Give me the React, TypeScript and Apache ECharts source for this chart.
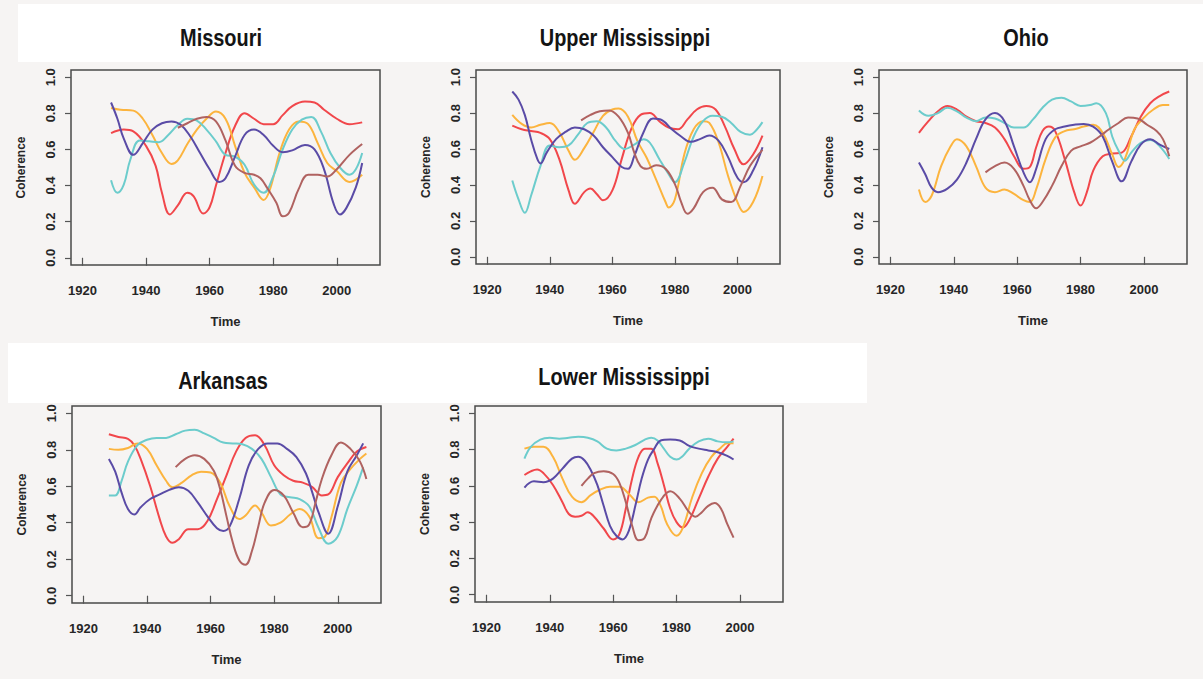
import React, { useEffect, useRef } from "react";
import * as echarts from "echarts";

// ---------- Data (year, coherence) ----------
const missouriRed = [[1929,0.69],[1933,0.71],[1936,0.70],[1940,0.62],[1943,0.51],[1945,0.36],[1947.5,0.24],[1950,0.29],[1953,0.36],[1955,0.34],[1958,0.245],[1960,0.28],[1962,0.40],[1965,0.58],[1968,0.73],[1971,0.80],[1974,0.77],[1977,0.74],[1980,0.74],[1983,0.79],[1986,0.84],[1990,0.865],[1993,0.86],[1996,0.82],[2000,0.77],[2004,0.74],[2008,0.75]];
const missouriOrange = [[1929,0.83],[1932,0.82],[1936,0.815],[1939,0.77],[1942,0.68],[1945,0.58],[1948,0.52],[1950,0.54],[1953,0.63],[1956,0.71],[1959,0.77],[1962,0.81],[1965,0.77],[1968,0.62],[1971,0.47],[1974,0.39],[1977,0.32],[1979,0.38],[1982,0.58],[1985,0.71],[1988,0.755],[1991,0.74],[1994,0.635],[1997,0.525],[2000,0.48],[2004,0.42],[2008,0.46]];
const missouriCyan = [[1929,0.43],[1931,0.36],[1933,0.405],[1935,0.54],[1938,0.65],[1941,0.645],[1944,0.64],[1947,0.68],[1950,0.735],[1953,0.77],[1956,0.76],[1959,0.71],[1962,0.645],[1965,0.57],[1968,0.56],[1971,0.515],[1974,0.405],[1977,0.36],[1980,0.45],[1983,0.60],[1986,0.71],[1989,0.765],[1992,0.78],[1995,0.70],[1998,0.58],[2001,0.50],[2004,0.46],[2006,0.49],[2008,0.58]];
const missouriPurple = [[1929,0.86],[1931,0.77],[1933,0.66],[1936,0.57],[1939,0.635],[1942,0.71],[1945,0.745],[1948,0.755],[1951,0.735],[1954,0.67],[1957,0.58],[1960,0.49],[1963,0.42],[1965,0.44],[1968,0.56],[1971,0.68],[1974,0.71],[1977,0.68],[1980,0.62],[1983,0.585],[1986,0.595],[1990,0.625],[1993,0.60],[1996,0.49],[1999,0.30],[2001,0.24],[2003,0.275],[2006,0.39],[2008,0.525]];
const missouriBrown = [[1950,0.72],[1953,0.745],[1956,0.77],[1959,0.78],[1962,0.755],[1965,0.65],[1968,0.51],[1971,0.47],[1974,0.46],[1976,0.44],[1978,0.39],[1981,0.305],[1983,0.23],[1985,0.25],[1988,0.38],[1991,0.46],[1994,0.46],[1997,0.45],[2000,0.49],[2004,0.57],[2008,0.63]];

const upperRed = [[1928,0.73],[1931,0.71],[1934,0.70],[1937,0.69],[1940,0.655],[1943,0.545],[1946,0.37],[1948,0.295],[1951,0.36],[1953,0.38],[1955,0.35],[1957,0.315],[1960,0.37],[1963,0.545],[1966,0.71],[1969,0.79],[1972,0.80],[1975,0.755],[1978,0.72],[1981,0.71],[1984,0.765],[1987,0.82],[1990,0.84],[1993,0.82],[1996,0.725],[1999,0.60],[2002,0.515],[2005,0.57],[2008,0.675]];
const upperOrange = [[1928,0.79],[1931,0.74],[1934,0.72],[1937,0.735],[1940,0.745],[1943,0.695],[1946,0.59],[1948,0.54],[1951,0.605],[1954,0.695],[1957,0.785],[1960,0.82],[1962,0.825],[1965,0.78],[1968,0.645],[1971,0.55],[1974,0.43],[1977,0.305],[1978,0.275],[1980,0.32],[1983,0.57],[1986,0.71],[1989,0.755],[1991,0.745],[1994,0.635],[1997,0.45],[2000,0.305],[2002,0.25],[2005,0.305],[2008,0.45]];
const upperCyan = [[1928,0.425],[1930,0.32],[1932,0.245],[1934,0.34],[1937,0.505],[1940,0.62],[1943,0.61],[1946,0.62],[1949,0.68],[1952,0.745],[1955,0.755],[1958,0.72],[1961,0.645],[1964,0.60],[1967,0.625],[1970,0.655],[1972,0.635],[1975,0.545],[1978,0.46],[1980,0.415],[1983,0.525],[1986,0.67],[1989,0.755],[1992,0.785],[1995,0.78],[1998,0.745],[2001,0.695],[2004,0.68],[2006,0.705],[2008,0.75]];
const upperPurple = [[1928,0.92],[1930,0.875],[1932,0.79],[1934,0.655],[1936,0.545],[1937,0.52],[1939,0.58],[1942,0.655],[1945,0.695],[1948,0.72],[1951,0.71],[1954,0.675],[1957,0.61],[1960,0.555],[1963,0.50],[1965,0.49],[1967,0.56],[1970,0.695],[1973,0.77],[1976,0.76],[1979,0.71],[1982,0.67],[1985,0.64],[1988,0.655],[1991,0.675],[1994,0.645],[1997,0.555],[2000,0.44],[2002,0.415],[2005,0.48],[2008,0.61]];
const upperBrown = [[1950,0.76],[1953,0.79],[1956,0.81],[1959,0.815],[1962,0.78],[1965,0.69],[1967,0.58],[1969,0.505],[1971,0.49],[1974,0.51],[1977,0.49],[1980,0.405],[1982,0.305],[1984,0.24],[1986,0.27],[1989,0.36],[1992,0.385],[1995,0.32],[1998,0.305],[2001,0.395],[2004,0.505],[2008,0.595]];

const ohioRed = [[1929,0.69],[1932,0.755],[1935,0.81],[1938,0.84],[1941,0.82],[1944,0.78],[1947,0.755],[1950,0.745],[1953,0.72],[1956,0.655],[1959,0.56],[1962,0.49],[1964,0.50],[1966,0.61],[1968,0.70],[1970,0.725],[1972,0.70],[1975,0.545],[1978,0.36],[1980,0.285],[1982,0.36],[1984,0.48],[1987,0.56],[1990,0.575],[1993,0.58],[1996,0.67],[1999,0.78],[2002,0.855],[2005,0.895],[2008,0.92]];
const ohioOrange = [[1929,0.375],[1931,0.305],[1933,0.34],[1936,0.505],[1939,0.615],[1941,0.655],[1944,0.615],[1947,0.505],[1950,0.385],[1953,0.36],[1956,0.375],[1959,0.35],[1962,0.315],[1964,0.305],[1966,0.375],[1969,0.545],[1972,0.665],[1975,0.70],[1978,0.71],[1981,0.725],[1984,0.735],[1987,0.69],[1990,0.57],[1992,0.50],[1994,0.545],[1997,0.71],[2000,0.775],[2003,0.82],[2006,0.845],[2008,0.845]];
const ohioCyan = [[1929,0.815],[1932,0.785],[1935,0.80],[1938,0.83],[1941,0.81],[1944,0.775],[1947,0.755],[1950,0.775],[1953,0.77],[1956,0.745],[1959,0.72],[1962,0.72],[1965,0.765],[1968,0.83],[1971,0.875],[1974,0.885],[1977,0.865],[1980,0.84],[1983,0.845],[1985,0.855],[1988,0.80],[1990,0.67],[1992,0.59],[1994,0.535],[1996,0.58],[1999,0.635],[2002,0.65],[2005,0.615],[2008,0.545]];
const ohioPurple = [[1929,0.525],[1931,0.46],[1933,0.385],[1935,0.36],[1938,0.38],[1941,0.43],[1944,0.525],[1947,0.655],[1950,0.765],[1953,0.80],[1956,0.755],[1959,0.615],[1962,0.47],[1964,0.415],[1966,0.49],[1969,0.655],[1972,0.71],[1975,0.725],[1978,0.735],[1981,0.74],[1984,0.725],[1987,0.67],[1990,0.53],[1993,0.42],[1996,0.53],[1999,0.625],[2002,0.655],[2005,0.625],[2008,0.60]];
const ohioBrown = [[1950,0.47],[1953,0.505],[1956,0.525],[1959,0.49],[1962,0.395],[1964,0.315],[1966,0.27],[1968,0.305],[1971,0.395],[1974,0.505],[1977,0.59],[1980,0.615],[1983,0.635],[1986,0.67],[1989,0.71],[1992,0.745],[1995,0.775],[1998,0.77],[2001,0.735],[2004,0.70],[2006,0.655],[2008,0.56]];

const arkansasRed = [[1928,0.885],[1931,0.87],[1934,0.86],[1936,0.825],[1938,0.75],[1941,0.60],[1944,0.42],[1946,0.325],[1948,0.29],[1950,0.31],[1953,0.365],[1956,0.365],[1959,0.41],[1962,0.53],[1965,0.66],[1968,0.79],[1971,0.865],[1974,0.88],[1977,0.825],[1980,0.715],[1983,0.66],[1986,0.63],[1989,0.62],[1992,0.595],[1995,0.55],[1997,0.555],[2000,0.65],[2003,0.725],[2006,0.79],[2009,0.815]];
const arkansasOrange = [[1928,0.805],[1931,0.80],[1934,0.81],[1937,0.835],[1940,0.805],[1943,0.715],[1946,0.63],[1948,0.595],[1951,0.62],[1954,0.66],[1957,0.68],[1960,0.675],[1963,0.62],[1966,0.49],[1969,0.42],[1971,0.44],[1974,0.495],[1976,0.455],[1979,0.385],[1982,0.40],[1985,0.445],[1988,0.475],[1991,0.435],[1994,0.315],[1996,0.325],[1998,0.43],[2001,0.62],[2004,0.695],[2007,0.75],[2009,0.78]];
const arkansasCyan = [[1928,0.55],[1930,0.55],[1932,0.63],[1934,0.735],[1937,0.825],[1940,0.855],[1943,0.865],[1946,0.865],[1949,0.885],[1952,0.905],[1955,0.91],[1958,0.89],[1961,0.865],[1964,0.84],[1967,0.835],[1970,0.83],[1973,0.805],[1976,0.75],[1979,0.65],[1982,0.555],[1985,0.54],[1988,0.53],[1991,0.49],[1994,0.37],[1997,0.285],[2000,0.325],[2003,0.475],[2006,0.605],[2008,0.705]];
const arkansasPurple = [[1928,0.75],[1930,0.68],[1932,0.565],[1934,0.475],[1936,0.445],[1938,0.485],[1941,0.53],[1944,0.555],[1947,0.58],[1950,0.595],[1953,0.575],[1956,0.51],[1959,0.435],[1962,0.37],[1964,0.355],[1966,0.38],[1969,0.53],[1972,0.715],[1975,0.805],[1978,0.835],[1981,0.835],[1984,0.805],[1987,0.76],[1990,0.67],[1992,0.565],[1994,0.455],[1997,0.34],[2000,0.49],[2003,0.68],[2006,0.77],[2008,0.835]];
const arkansasBrown = [[1949,0.705],[1952,0.75],[1955,0.77],[1958,0.75],[1961,0.685],[1963,0.585],[1965,0.435],[1967,0.29],[1969,0.195],[1971,0.17],[1973,0.245],[1975,0.38],[1977,0.51],[1980,0.58],[1983,0.55],[1986,0.455],[1989,0.375],[1991,0.39],[1993,0.51],[1995,0.64],[1998,0.77],[2001,0.84],[2004,0.805],[2007,0.735],[2009,0.64]];

const lowerRed = [[1932,0.66],[1934,0.68],[1936,0.69],[1938,0.67],[1941,0.605],[1944,0.51],[1946,0.445],[1948,0.43],[1950,0.435],[1952,0.455],[1954,0.43],[1957,0.365],[1960,0.305],[1962,0.335],[1964,0.475],[1966,0.64],[1968,0.76],[1970,0.805],[1972,0.805],[1974,0.725],[1976,0.605],[1978,0.475],[1980,0.40],[1982,0.37],[1984,0.41],[1987,0.53],[1990,0.65],[1993,0.75],[1996,0.815],[1998,0.86]];
const lowerOrange = [[1932,0.805],[1935,0.815],[1938,0.815],[1941,0.76],[1944,0.64],[1947,0.54],[1950,0.51],[1953,0.55],[1956,0.58],[1959,0.595],[1962,0.595],[1965,0.555],[1968,0.51],[1971,0.535],[1973,0.54],[1975,0.49],[1977,0.39],[1980,0.325],[1982,0.37],[1985,0.54],[1988,0.67],[1991,0.76],[1994,0.81],[1996,0.835],[1998,0.835]];
const lowerCyan = [[1932,0.75],[1934,0.815],[1937,0.855],[1940,0.865],[1943,0.86],[1946,0.865],[1949,0.87],[1952,0.865],[1955,0.845],[1958,0.805],[1961,0.795],[1964,0.805],[1967,0.825],[1970,0.855],[1972,0.865],[1974,0.85],[1976,0.805],[1978,0.76],[1980,0.745],[1982,0.765],[1984,0.805],[1987,0.845],[1990,0.86],[1993,0.845],[1996,0.84],[1998,0.845]];
const lowerPurple = [[1932,0.59],[1935,0.625],[1938,0.62],[1941,0.64],[1944,0.695],[1947,0.75],[1949,0.76],[1951,0.74],[1953,0.685],[1955,0.605],[1957,0.49],[1959,0.38],[1961,0.325],[1963,0.305],[1965,0.355],[1967,0.49],[1969,0.64],[1971,0.745],[1973,0.805],[1975,0.85],[1978,0.855],[1981,0.85],[1984,0.82],[1987,0.805],[1990,0.795],[1993,0.785],[1996,0.765],[1998,0.745]];
const lowerBrown = [[1950,0.60],[1952,0.64],[1954,0.67],[1957,0.68],[1960,0.665],[1962,0.615],[1964,0.51],[1966,0.38],[1968,0.30],[1970,0.315],[1972,0.42],[1975,0.52],[1978,0.57],[1981,0.53],[1984,0.455],[1986,0.43],[1988,0.455],[1990,0.49],[1992,0.505],[1994,0.475],[1996,0.39],[1998,0.315]];

const xTickLabels = [1920, 1940, 1960, 1980, 2000];
const yTickLabels = [0, 0.2, 0.4, 0.6, 0.8, 1.0];
const seriesColors = ["#f1474b", "#fcb43e", "#6ccccc", "#5a4ba6", "#b06260"];

const panelTitles = ["Missouri", "Upper Mississippi", "Ohio", "Arkansas", "Lower Mississippi"];
const panelData = [
  [missouriRed, missouriOrange, missouriCyan, missouriPurple, missouriBrown],
  [upperRed, upperOrange, upperCyan, upperPurple, upperBrown],
  [ohioRed, ohioOrange, ohioCyan, ohioPurple, ohioBrown],
  [arkansasRed, arkansasOrange, arkansasCyan, arkansasPurple, arkansasBrown],
  [lowerRed, lowerOrange, lowerCyan, lowerPurple, lowerBrown],
];

// layout
const gridBoxes = [
  { left: 71, top: 70, width: 309, height: 195 },
  { left: 476, top: 70, width: 304, height: 194 },
  { left: 879, top: 70, width: 308, height: 194 },
  { left: 72, top: 406, width: 309, height: 197 },
  { left: 475, top: 406, width: 308, height: 196 },
];
const titlePos = [
  [221, 38],
  [625, 38],
  [1026, 38],
  [223, 381],
  [624, 377],
];

const FONT = "'Liberation Sans Narrow', 'Liberation Sans', Arial, sans-serif";

export default function App() {
  const ref = useRef<HTMLDivElement>(null);
  useEffect(() => {
    if (!ref.current) return;
    const chart = echarts.init(ref.current, undefined, { renderer: "svg" });
    const grids = gridBoxes.map((g) => ({
      ...g,
      show: true,
      borderColor: "#4a4a4a",
      borderWidth: 1.5,
      backgroundColor: "transparent",
      containLabel: false,
    }));
    const xAxes = gridBoxes.map((_, i) => ({
      type: "value",
      gridIndex: i,
      min: 1916.4,
      max: 2013.6,
      axisLine: { show: false },
      splitLine: { show: false },
      axisTick: {
        show: true,
        length: 8,
        customValues: xTickLabels,
        lineStyle: { color: "#555", width: 1.2 },
      },
      axisLabel: {
        customValues: xTickLabels,
        margin: 19,
        fontSize: 13,
        fontWeight: "bold",
        fontFamily: FONT,
        color: "#262626",
        formatter: (v: number) => String(Math.round(v)),
      },
      name: "Time",
      nameLocation: "middle",
      nameGap: 50,
      nameTextStyle: { fontSize: 13, fontWeight: "bold", fontFamily: FONT, color: "#262626" },
    }));
    const yAxes = gridBoxes.map((_, i) => ({
      type: "value",
      gridIndex: i,
      min: -0.04,
      max: 1.04,
      axisLine: { show: false },
      splitLine: { show: false },
      axisTick: {
        show: true,
        length: 6,
        customValues: yTickLabels,
        lineStyle: { color: "#555", width: 1.2 },
      },
      axisLabel: {
        customValues: yTickLabels,
        rotate: 90,
        margin: 14,
        fontSize: 13,
        fontWeight: "bold",
        fontFamily: FONT,
        color: "#262626",
        formatter: (v: number) => v.toFixed(1),
      },
      name: "Coherence",
      nameLocation: "middle",
      nameGap: 44,
      nameTextStyle: { fontSize: 12, fontWeight: "bold", fontFamily: FONT, color: "#262626" },
    }));
    const series: any[] = [];
    panelData.forEach((lines, pi) => {
      lines.forEach((data, li) => {
        series.push({
          type: "line",
          xAxisIndex: pi,
          yAxisIndex: pi,
          data,
          smooth: 0.4,
          showSymbol: false,
          symbol: "none",
          lineStyle: { color: seriesColors[li], width: 2 },
          itemStyle: { color: seriesColors[li] },
          z: 2 + li,
        });
      });
    });
    const graphics: any[] = [
      { type: "rect", z: -10, shape: { x: 18, y: 4, width: 1185, height: 58 }, style: { fill: "#ffffff" } },
      { type: "rect", z: -10, shape: { x: 8, y: 343, width: 859, height: 60 }, style: { fill: "#ffffff" } },
    ];
    panelTitles.forEach((t, i) => {
      graphics.push({
        type: "text",
        x: titlePos[i][0],
        y: titlePos[i][1],
        scaleX: 0.83,
        z: 10,
        style: {
          text: t,
          fontSize: 24,
          fontWeight: "bold",
          fontFamily: "'Liberation Sans', Arial, sans-serif",
          fill: "#141414",
          textAlign: "center",
          textVerticalAlign: "middle",
        },
      });
    });
    chart.setOption({
      animation: false,
      backgroundColor: "#f6f4f3",
      grid: grids,
      xAxis: xAxes,
      yAxis: yAxes,
      series,
      graphic: { elements: graphics },
    });
    return () => chart.dispose();
  }, []);
  return (
    <div
      ref={ref}
      style={{ position: "absolute", left: 0, top: 0, width: 1203, height: 679 }}
    />
  );
}
